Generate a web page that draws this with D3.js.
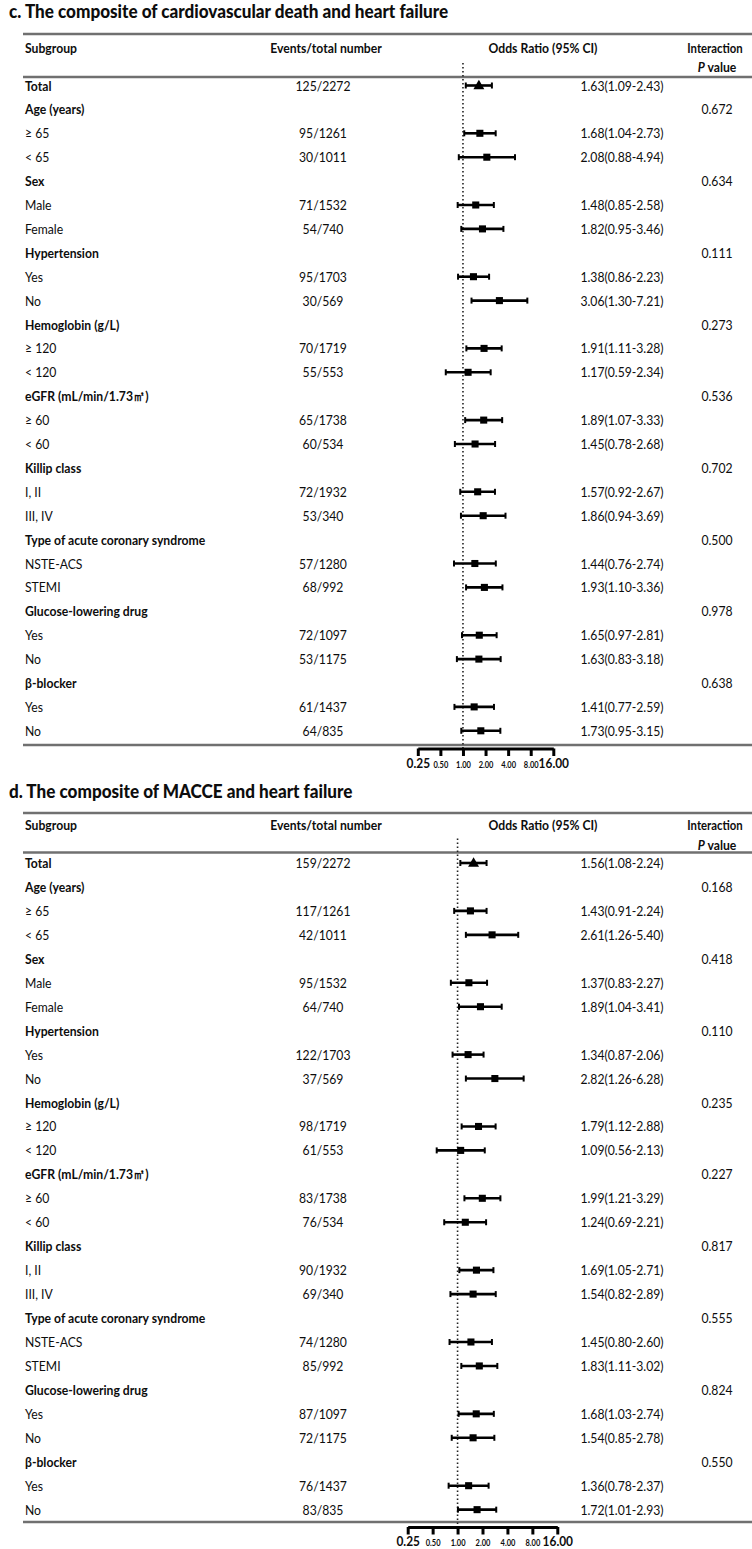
<!DOCTYPE html>
<html><head><meta charset="utf-8">
<script src="https://cdn.jsdelivr.net/npm/d3@7"></script>
<style>body{margin:0;background:#fff} svg{display:block}</style>
</head><body><svg id="chart" width="752" height="1549"></svg>
<script>
// ---------- DATA ----------
const rowLabels = ["Total","Age (years)","≥ 65","< 65","Sex","Male","Female","Hypertension","Yes","No",
  "Hemoglobin (g/L)","≥ 120","< 120","eGFR (mL/min/1.73㎡)","≥ 60","< 60","Killip class","I, II","III, IV",
  "Type of acute coronary syndrome","NSTE-ACS","STEMI","Glucose-lowering drug","Yes","No","β-blocker","Yes","No"];
const rowKinds = ["total","group","sub","sub","group","sub","sub","group","sub","sub","group","sub","sub",
  "group","sub","sub","group","sub","sub","group","sub","sub","group","sub","sub","group","sub","sub"];

const titleC = "c. The composite of cardiovascular death and heart failure";
const eventsC = ["125/2272",null,"95/1261","30/1011",null,"71/1532","54/740",null,"95/1703","30/569",null,"70/1719","55/553",null,"65/1738","60/534",null,"72/1932","53/340",null,"57/1280","68/992",null,"72/1097","53/1175",null,"61/1437","64/835"];
const orC = [1.63,null,1.68,2.08,null,1.48,1.82,null,1.38,3.06,null,1.91,1.17,null,1.89,1.45,null,1.57,1.86,null,1.44,1.93,null,1.65,1.63,null,1.41,1.73];
const loC = [1.09,null,1.04,0.88,null,0.85,0.95,null,0.86,1.30,null,1.11,0.59,null,1.07,0.78,null,0.92,0.94,null,0.76,1.10,null,0.97,0.83,null,0.77,0.95];
const hiC = [2.43,null,2.73,4.94,null,2.58,3.46,null,2.23,7.21,null,3.28,2.34,null,3.33,2.68,null,2.67,3.69,null,2.74,3.36,null,2.81,3.18,null,2.59,3.15];
const pC = [null,"0.672",null,null,"0.634",null,null,"0.111",null,null,"0.273",null,null,"0.536",null,null,"0.702",null,null,"0.500",null,null,"0.978",null,null,"0.638",null,null];

const titleD = "d. The composite of MACCE and heart failure";
const eventsD = ["159/2272",null,"117/1261","42/1011",null,"95/1532","64/740",null,"122/1703","37/569",null,"98/1719","61/553",null,"83/1738","76/534",null,"90/1932","69/340",null,"74/1280","85/992",null,"87/1097","72/1175",null,"76/1437","83/835"];
const orD = [1.56,null,1.43,2.61,null,1.37,1.89,null,1.34,2.82,null,1.79,1.09,null,1.99,1.24,null,1.69,1.54,null,1.45,1.83,null,1.68,1.54,null,1.36,1.72];
const loD = [1.08,null,0.91,1.26,null,0.83,1.04,null,0.87,1.26,null,1.12,0.56,null,1.21,0.69,null,1.05,0.82,null,0.80,1.11,null,1.03,0.85,null,0.78,1.01];
const hiD = [2.24,null,2.24,5.40,null,2.27,3.41,null,2.06,6.28,null,2.88,2.13,null,3.29,2.21,null,2.71,2.89,null,2.60,3.02,null,2.74,2.78,null,2.37,2.93];
const pD = [null,"0.168",null,null,"0.418",null,null,"0.110",null,null,"0.235",null,null,"0.227",null,null,"0.817",null,null,"0.555",null,null,"0.824",null,null,"0.550",null,null];

const tickValues = [0.25,0.5,1,2,4,8,16];
const tickLabels = ["0.25","0.50","1.00","2.00","4.00","8.00","16.00"];
const headers = ["Subgroup","Events/total number","Odds Ratio (95% CI)","Interaction"];

// ---------- DRAW ----------
const svg = d3.select("#chart");
const FONT = "Lato, 'Open Sans', sans-serif";
const INK = "#0d0d0d";
const SQ = 0.87; // horizontal squeeze to mimic a narrow font

function squeeze(sel, k) {
  sel.each(function(){
    const len = this.getComputedTextLength();
    if (len > 0) d3.select(this).attr("textLength", len * (k || SQ)).attr("lengthAdjust","spacingAndGlyphs");
  });
}

function panel(cfg) {
  const g = svg.append("g");
  const x = d3.scaleLog().base(2).domain([0.25,16]).range(cfg.xr);
  const rowY = i => cfg.row0 + i * cfg.dy;
  const nRows = rowLabels.length;
  const grayY = cfg.gray;
  const axisY = grayY + cfg.axisGap;

  // title
  g.append("text").attr("x", 9).attr("y", cfg.titleY).text(cfg.title)
    .attr("font-family", FONT).attr("font-weight", 900).attr("font-size", 19).attr("fill", INK)
    .call(squeeze, 0.9);

  // rules
  [cfg.top, cfg.line2, grayY].forEach(y => {
    g.append("line").attr("x1", 23).attr("x2", 752).attr("y1", y).attr("y2", y)
      .attr("stroke", "#707070").attr("stroke-width", 2.6);
  });

  // headers
  const h = g.append("g").attr("font-family", FONT).attr("font-weight", 700).attr("font-size", 14).attr("fill", INK);
  h.append("text").attr("x", 25).attr("y", cfg.h1).text(headers[0]).call(squeeze);
  h.append("text").attr("x", 326).attr("y", cfg.h1).attr("text-anchor","middle").text(headers[1]).call(squeeze);
  h.append("text").attr("x", 543).attr("y", cfg.h1).attr("text-anchor","middle").text(headers[2]).call(squeeze);
  h.append("text").attr("x", 715).attr("y", cfg.h1).attr("text-anchor","middle").attr("font-size", 13.5).text(headers[3]).call(squeeze, 0.84);
  const pv = h.append("text").attr("x", 717).attr("y", cfg.h2).attr("text-anchor","middle");
  pv.append("tspan").attr("font-style","italic").text("P");
  pv.append("tspan").text(" value");
  pv.call(squeeze);

  // dotted reference line
  g.append("line").attr("x1", x(1)).attr("x2", x(1)).attr("y1", cfg.line2 - 14).attr("y2", axisY)
    .attr("stroke", "#222").attr("stroke-width", 1.6).attr("stroke-dasharray", "1.6,2.4");

  // rows text
  const rows = g.append("g").attr("font-family", FONT).attr("font-size", 14).attr("fill", INK);
  rowLabels.forEach((lab, i) => {
    const yb = rowY(i) + 5;
    const bold = rowKinds[i] !== "sub";
    rows.append("text").attr("x", 25).attr("y", yb).attr("font-weight", bold ? 700 : 400).text(lab).call(squeeze);
    if (cfg.events[i]) rows.append("text").attr("x", 323).attr("y", yb).attr("text-anchor","middle").text(cfg.events[i]).call(squeeze);
    if (cfg.or[i] != null) rows.append("text").attr("x", 622).attr("y", yb).attr("text-anchor","middle")
      .text(`${cfg.or[i].toFixed(2)}(${cfg.lo[i].toFixed(2)}-${cfg.hi[i].toFixed(2)})`).call(squeeze);
    if (cfg.p[i]) rows.append("text").attr("x", 717).attr("y", yb).attr("text-anchor","middle").text(cfg.p[i]).call(squeeze);
  });

  // CI bars and markers
  const idx = d3.range(nRows).filter(i => cfg.or[i] != null);
  const marks = g.append("g").attr("stroke", "#000").attr("fill", "#000");
  marks.selectAll("line.ci").data(idx).join("line").attr("class","ci")
    .attr("x1", i => x(cfg.lo[i])).attr("x2", i => x(cfg.hi[i]))
    .attr("y1", i => rowY(i)).attr("y2", i => rowY(i)).attr("stroke-width", 2.6);
  marks.selectAll("line.capl").data(idx).join("line").attr("class","capl")
    .attr("x1", i => x(cfg.lo[i])).attr("x2", i => x(cfg.lo[i]))
    .attr("y1", i => rowY(i) - 3).attr("y2", i => rowY(i) + 3).attr("stroke-width", 2);
  marks.selectAll("line.caph").data(idx).join("line").attr("class","caph")
    .attr("x1", i => x(cfg.hi[i])).attr("x2", i => x(cfg.hi[i]))
    .attr("y1", i => rowY(i) - 3).attr("y2", i => rowY(i) + 3).attr("stroke-width", 2);
  marks.selectAll("path.pt").data(idx).join("path").attr("class","pt")
    .attr("transform", i => `translate(${x(cfg.or[i])},${rowY(i) + (rowKinds[i]==="total" ? 0.5 : 0)})`)
    .attr("stroke", "none")
    .attr("d", i => rowKinds[i] === "total" ? d3.symbol().type(d3.symbolTriangle).size(52)() : d3.symbol().type(d3.symbolSquare).size(50)());

  // axis
  const ax = g.append("g").attr("transform", `translate(0,${axisY})`)
    .call(d3.axisBottom(x).tickValues(tickValues).tickSize(7.5).tickSizeOuter(0)
      .tickFormat((d, i) => tickLabels[i]));
  ax.select(".domain").attr("stroke", "#000").attr("stroke-width", 3);
  ax.selectAll(".tick line").attr("stroke", "#000").attr("stroke-width", 3);
  ax.selectAll(".tick text")
    .attr("font-family", FONT).attr("font-weight", 700).attr("fill", INK)
    .attr("font-size", (d, i) => (i === 0 || i === tickValues.length - 1) ? 13.5 : 8.5)
    .attr("y", 19).attr("dy", 0)
    .call(squeeze, 0.88);
}

panel({ title: titleC, titleY: 18, top: 34, h1: 53, h2: 72, line2: 77, row0: 85.5, dy: 23.9, gray: 745,
  xr: [417.8, 553.3], axisGap: 3.5,
  events: eventsC, or: orC, lo: loC, hi: hiC, p: pC });

panel({ title: titleD, titleY: 798, top: 813, h1: 830, h2: 850, line2: 852.5, row0: 863, dy: 23.95, gray: 1522,
  xr: [407.7, 557.3], axisGap: 5,
  events: eventsD, or: orD, lo: loD, hi: hiD, p: pD });
</script>
</body></html>
